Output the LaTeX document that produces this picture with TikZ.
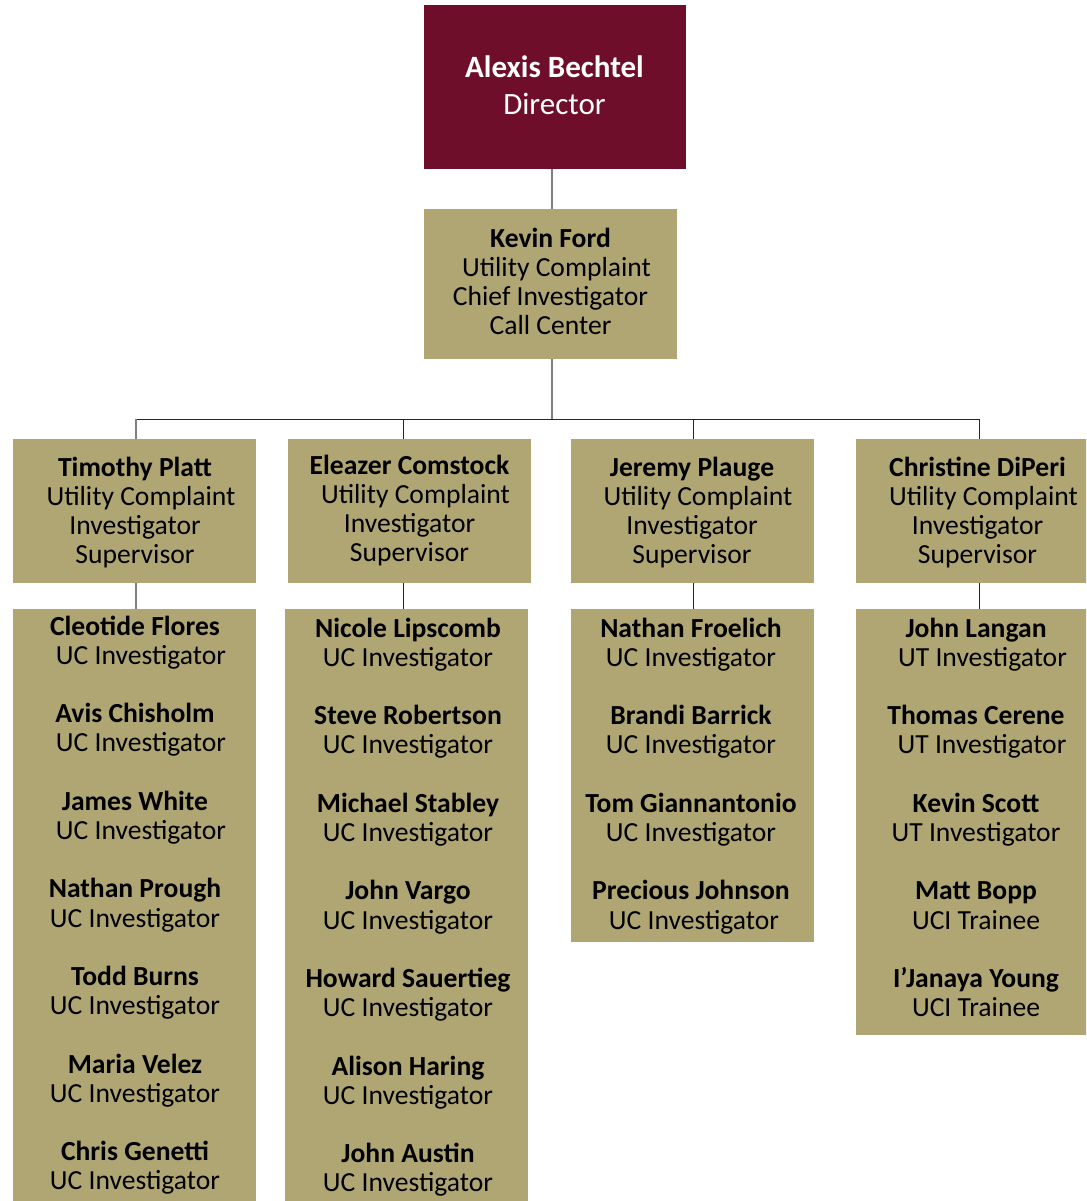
\documentclass[tikz,border=0pt]{standalone}
\usepackage{fontspec}
\setmainfont{Carlito}
\usetikzlibrary{calc}
\definecolor{maroon}{HTML}{6F0E2A}
\definecolor{tan}{HTML}{B0A674}
\definecolor{linegray}{HTML}{7F7F7F}
\tikzset{
  box/.style={fill=tan, draw=none, anchor=north west, inner sep=0pt},
  dirbox/.style={fill=maroon, draw=none, anchor=north west, inner sep=0pt},
  txt/.style={anchor=north, align=center, inner sep=0pt, font=\fontsize{27.6}{29.2}\selectfont},
  dirtxt/.style={anchor=north, align=center, inner sep=0pt, text=white, font=\fontsize{31}{37}\selectfont},
  trunk/.style={draw=linegray, line width=1.5pt},
  conn/.style={draw=black!85, line width=1pt},
}
\newcommand{\gap}{\\[29.2pt]}
\begin{document}
\begin{tikzpicture}[x=1pt,y=-1pt]
\useasboundingbox (0,0) rectangle (1086,1201);
\clip (0,0) rectangle (1086,1201);
% boxes
\node[dirbox, minimum width=262pt, minimum height=164pt] (dir) at (424,5) {};
\node[box, minimum width=253pt, minimum height=150pt] (kev) at (424,209) {};
\node[box, minimum width=243pt, minimum height=144pt] (sup1) at (13,439) {};
\node[box, minimum width=243pt, minimum height=144pt] (sup2) at (288,439) {};
\node[box, minimum width=243pt, minimum height=144pt] (sup3) at (571,439) {};
\node[box, minimum width=243pt, minimum height=144pt] (sup4) at (856,439) {};
\node[box, minimum width=243pt, minimum height=620pt] (st1) at (13,609) {};
\node[box, minimum width=243pt, minimum height=620pt] (st2) at (285,609) {};
\node[box, minimum width=243pt, minimum height=333pt] (st3) at (571,609) {};
\node[box, minimum width=243pt, minimum height=426pt] (st4) at (856,609) {};
% junctions
\coordinate (jk) at (552,419);
\coordinate (j1) at (136,419);
\coordinate (j2) at (403,419);
\coordinate (j3) at (693,419);
\coordinate (j4) at (979,419);
% connectors
\draw[trunk] (jk |- dir.south) -- (jk |- kev.north);
\draw[trunk] (jk |- kev.south) -- (jk);
\draw[conn] (j1) -- (j4);
\draw[trunk] (j1) -- (j1 |- sup1.north);
\draw[conn] (j2) -- (j2 |- sup2.north);
\draw[conn] (j3) -- (j3 |- sup3.north);
\draw[conn] (j4) -- (j4 |- sup4.north);
\draw[trunk] (j1 |- sup1.south) -- (j1 |- st1.north);
\draw[conn] (j2 |- sup2.south) -- (j2 |- st2.north);
\draw[conn] (j3 |- sup3.south) -- (j3 |- st3.north);
\draw[conn] (j4 |- sup4.south) -- (j4 |- st4.north);
% texts
\node[dirtxt] (tdir) at (554.5,51) {\strut\textbf{Alexis Bechtel}\\Director};
\node[txt] (tkev) at (550.5,226.5) {\strut\textbf{Kevin Ford}\\\hspace*{12pt}Utility Complaint\\Chief Investigator\\Call Center};
\node[txt] (tsup1) at (135,455.5) {\strut\textbf{Timothy Platt}\\\hspace*{12pt}Utility Complaint\\Investigator\\Supervisor};
\node[txt] (tsup2) at (409.5,453.5) {\strut\textbf{Eleazer Comstock}\\\hspace*{12pt}Utility Complaint\\Investigator\\Supervisor};
\node[txt] (tsup3) at (692,455.5) {\strut\textbf{Jeremy Plauge}\\\hspace*{12pt}Utility Complaint\\Investigator\\Supervisor};
\node[txt] (tsup4) at (977.5,455.5) {\strut\textbf{Christine DiPeri}\\\hspace*{12pt}Utility Complaint\\Investigator\\Supervisor};
\node[txt] (tst1) at (135,614.5) {\strut\textbf{Cleotide Flores}\\\hspace*{12pt}UC Investigator\gap
\textbf{Avis Chisholm}\\\hspace*{12pt}UC Investigator\gap
\textbf{James White}\\\hspace*{12pt}UC Investigator\gap
\textbf{Nathan Prough}\\UC Investigator\gap
\textbf{Todd Burns}\\UC Investigator\gap
\textbf{Maria Velez}\\UC Investigator\gap
\textbf{Chris Genetti}\\UC Investigator};
\node[txt] (tst2) at (408,616.5) {\strut\textbf{Nicole Lipscomb}\\UC Investigator\gap
\textbf{Steve Robertson}\\UC Investigator\gap
\textbf{Michael Stabley}\\UC Investigator\gap
\textbf{John Vargo}\\UC Investigator\gap
\textbf{Howard Sauertieg}\\UC Investigator\gap
\textbf{Alison Haring}\\UC Investigator\gap
\textbf{John Austin}\\UC Investigator};
\node[txt] (tst3) at (691,616.5) {\strut\textbf{Nathan Froelich}\\UC Investigator\gap
\textbf{Brandi Barrick}\\UC Investigator\gap
\textbf{Tom Giannantonio}\\UC Investigator\gap
\textbf{Precious Johnson}\\\hspace*{6pt}UC Investigator};
\node[txt] (tst4) at (976,616.5) {\strut\textbf{John Langan}\\\hspace*{13pt}UT Investigator\gap
\textbf{Thomas Cerene}\\\hspace*{12pt}UT Investigator\gap
\textbf{Kevin Scott}\\UT Investigator\gap
\textbf{Matt Bopp}\\UCI Trainee\gap
\textbf{I’Janaya Young}\\UCI Trainee};
\end{tikzpicture}
\end{document}
